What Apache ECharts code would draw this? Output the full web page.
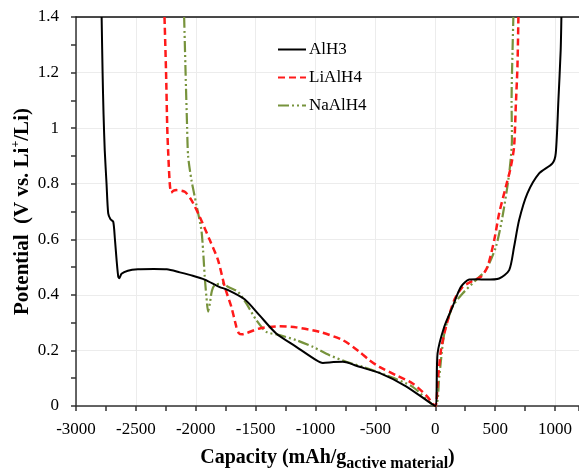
<!DOCTYPE html>
<html>
<head>
<meta charset="utf-8">
<script src="https://cdn.jsdelivr.net/npm/echarts@6/dist/echarts.min.js"></script>
<style>
html,body{margin:0;padding:0;background:#fff;}
#chart{width:579px;height:470px;}
</style>
</head>
<body>
<div id="chart"></div>
<script>
// ---- data (capacity in mAh/g, potential in V) ----
var seriesNames = ['AlH3', 'LiAlH4', 'NaAlH4'];

var alh3Cap = [-2786,-2778,-2770,-2760,-2745,-2731,-2712,-2689,-2675,-2660,-2647,-2638,-2620,-2567,-2483,-2350,-2242,-2133,-2025,-1925,-1800,-1744,-1592,-1467,-1328,-1161,-994,-939,-850,-772,-633,-467,-244,0,19,75,144,214,283,350,422,533,617,658,700,769,867,978,1006,1028,1047,1053];
var alh3Pot = [1.4,1.2,1.05,0.92,0.8,0.693,0.672,0.663,0.6,0.52,0.465,0.46,0.476,0.487,0.492,0.493,0.492,0.481,0.469,0.455,0.428,0.42,0.384,0.326,0.261,0.213,0.165,0.155,0.158,0.159,0.141,0.119,0.071,0,0.189,0.285,0.357,0.429,0.455,0.456,0.455,0.459,0.489,0.573,0.669,0.765,0.837,0.873,0.91,1.10,1.28,1.4];

var lialh4Cap = [-2261,-2248,-2238,-2231,-2217,-2205,-2185,-2161,-2092,-2036,-1967,-1883,-1814,-1758,-1703,-1661,-1640,-1612,-1578,-1467,-1300,-1161,-967,-772,-633,-550,-467,-328,-189,-78,0,19,47,89,158,228,297,381,436,492,533,589,631,658,672,686,694];
var lialh4Pot = [1.4,1.2,1.0,0.92,0.8,0.768,0.775,0.777,0.771,0.741,0.681,0.597,0.525,0.429,0.357,0.285,0.262,0.258,0.262,0.279,0.287,0.283,0.267,0.237,0.195,0.165,0.141,0.111,0.081,0.039,0,0.081,0.2,0.285,0.381,0.429,0.447,0.465,0.501,0.597,0.693,0.789,0.861,0.933,1.077,1.222,1.4];

var naalh4Cap = [-2097,-2085,-2072,-2064,-2036,-1994,-1953,-1939,-1925,-1911,-1897,-1882,-1865,-1842,-1772,-1731,-1647,-1578,-1494,-1411,-1300,-1161,-1022,-883,-744,-606,-411,-189,0,33,75,144,228,339,422,506,561,617,640,637,645,652];
var naalh4Pot = [1.4,1.2,1.0,0.9,0.813,0.723,0.633,0.561,0.465,0.393,0.34,0.37,0.415,0.435,0.441,0.429,0.411,0.369,0.309,0.267,0.255,0.237,0.213,0.183,0.159,0.141,0.111,0.069,0,0.105,0.261,0.357,0.405,0.453,0.489,0.573,0.681,0.837,0.96,1.10,1.28,1.4];

var xTicks = [-3000,-2500,-2000,-1500,-1000,-500,0,500,1000];
var yTicks = [0,0.2,0.4,0.6,0.8,1,1.2,1.4];

function zip(a, b) { return a.map(function (v, i) { return [v, b[i]]; }); }

var serif = 'Liberation Serif';
var chart = echarts.init(document.getElementById('chart'));
chart.setOption({
  animation: false,
  backgroundColor: '#fff',
  grid: { left: 76, top: 17, right: 0, bottom: 64, containLabel: false, outerBoundsMode: 'none' },
  legend: {
    left: 277, top: 41, orient: 'vertical', padding: 0,
    itemWidth: 28, itemHeight: 14, itemGap: 11,
    itemStyle: { opacity: 0, borderWidth: 0 },
    textStyle: { fontFamily: serif, fontSize: 17, color: '#000', padding: [0, 0, 0, -2] },
    data: seriesNames
  },
  xAxis: [{
    type: 'value', min: -3000, max: 1200, interval: 500,
    name: '{a|Capacity (mAh/g}{b|active material}{a|)}',
    nameLocation: 'middle', nameGap: 38,
    nameTextStyle: {
      rich: {
        a: { fontFamily: serif, fontWeight: 'bold', fontSize: 20, color: '#000', lineHeight: 28 },
        b: { fontFamily: serif, fontWeight: 'bold', fontSize: 16, color: '#000', lineHeight: 16, verticalAlign: 'bottom' }
      }
    },
    axisLine: { onZero: false, lineStyle: { color: '#333', width: 1.5 } },
    axisTick: { show: true, length: 5, lineStyle: { color: '#333', width: 1.5 } },
    minorTick: { show: true, splitNumber: 2, length: 5, lineStyle: { color: '#333', width: 1.5 } },
    axisLabel: {
      fontFamily: serif, fontSize: 17, color: '#000', margin: 15, showMaxLabel: false,
      formatter: function (v) { return xTicks.indexOf(v) >= 0 ? String(v) : ''; }
    },
    splitLine: { show: true, lineStyle: { color: '#ececec', width: 1 } }
  }, {
    type: 'value', min: -3000, max: 1200, position: 'top',
    axisLine: { show: true, onZero: false, lineStyle: { color: '#111', width: 1.5 } },
    axisTick: { show: false }, axisLabel: { show: false }, splitLine: { show: false }
  }],
  yAxis: {
    type: 'value', min: 0, max: 1.4, interval: 0.2,
    name: '{a|Potential  (V vs. Li}{s|+}{a|/Li)}',
    nameLocation: 'middle', nameGap: 40, nameMoveOverlap: false,
    nameTextStyle: {
      rich: {
        a: { fontFamily: serif, fontWeight: 'bold', fontSize: 21, color: '#000', lineHeight: 26 },
        s: { fontFamily: serif, fontWeight: 'bold', fontSize: 12, color: '#000', lineHeight: 12, verticalAlign: 'top' }
      }
    },
    axisLine: { show: true, onZero: false, lineStyle: { color: '#333', width: 1.5 } },
    axisTick: { show: true, length: 5, lineStyle: { color: '#333', width: 1.5 } },
    minorTick: { show: true, splitNumber: 2, length: 5, lineStyle: { color: '#333', width: 1.5 } },
    axisLabel: {
      fontFamily: serif, fontSize: 17, color: '#000', margin: 17,
      formatter: function (v) { return yTicks.indexOf(Math.round(v * 10) / 10) >= 0 ? String(Math.round(v * 10) / 10) : ''; }
    },
    splitLine: { show: true, lineStyle: { color: '#ececec', width: 1 } }
  },
  series: [{
    name: seriesNames[0], type: 'line', symbol: 'none', smooth: 0.25, z: 4,
    lineStyle: { color: '#000', width: 2, type: 'solid' },
    itemStyle: { color: '#000' },
    data: zip(alh3Cap, alh3Pot)
  }, {
    name: seriesNames[1], type: 'line', symbol: 'none', smooth: 0.25, z: 3,
    lineStyle: { color: '#ff1a1a', width: 2.5, type: [7, 4] },
    itemStyle: { color: '#ff1a1a' },
    data: zip(lialh4Cap, lialh4Pot)
  }, {
    name: seriesNames[2], type: 'line', symbol: 'none', smooth: 0.25, z: 2,
    lineStyle: { color: '#77933c', width: 2.2, type: [11, 3, 2, 3, 2, 3] },
    itemStyle: { color: '#77933c' },
    data: zip(naalh4Cap, naalh4Pot)
  }]
});
</script>
</body>
</html>
